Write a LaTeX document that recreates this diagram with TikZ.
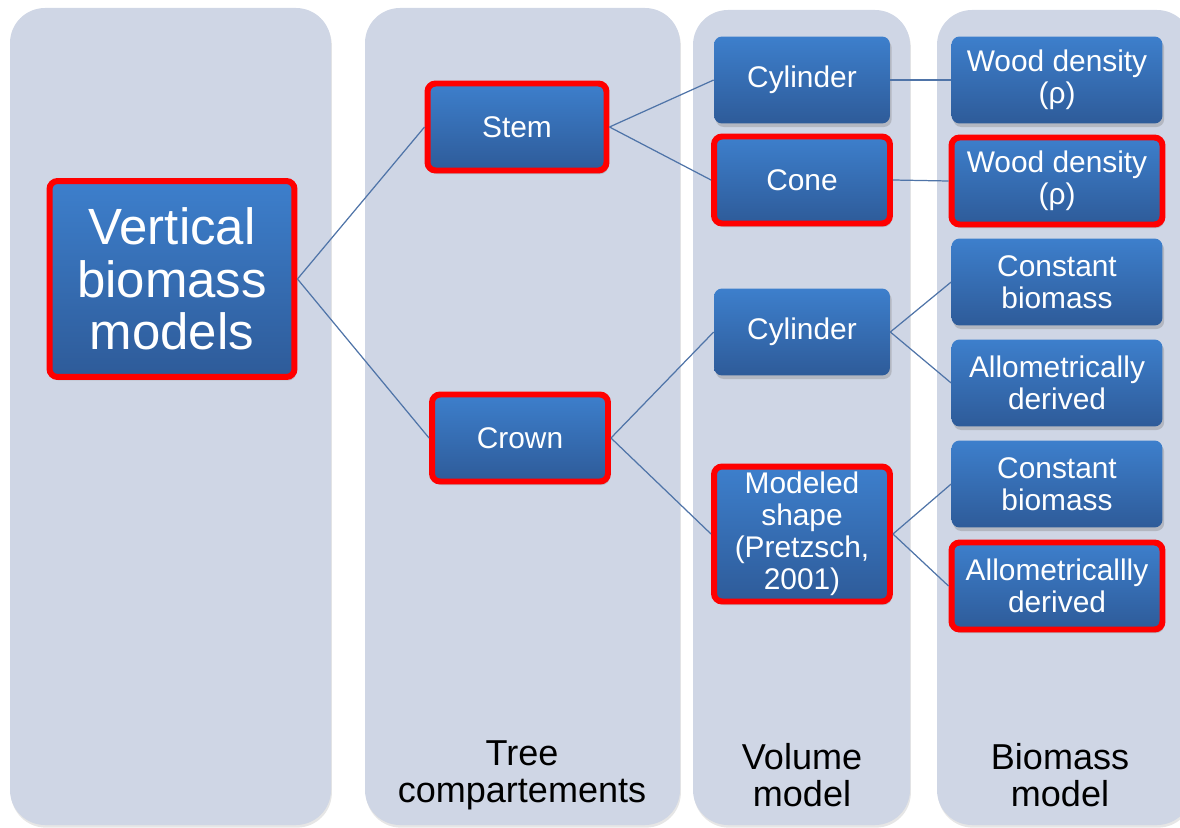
\documentclass[tikz,border=0pt]{standalone}
\usepackage{fontspec}
\setmainfont{Liberation Sans}
\usetikzlibrary{shadows}
\definecolor{colbg}{RGB}{207,214,229}
\definecolor{boxtop}{RGB}{61,127,204}
\definecolor{boxbot}{RGB}{46,91,153}
\definecolor{linkc}{RGB}{79,116,168}
\definecolor{hlred}{RGB}{255,0,0}

\begin{document}
\begin{tikzpicture}[x=0.02cm,y=-0.02cm,
  column/.style={fill=colbg, rounded corners=0.7cm, drop shadow={opacity=0.2,shadow xshift=0.5pt,shadow yshift=-1.5pt}},
  box/.style={rectangle, rounded corners=0.16cm, top color=boxtop, bottom color=boxbot, text=white, align=center, inner sep=1pt, minimum width=3.52cm, minimum height=1.74cm, font=\fontsize{17}{18.2}\selectfont, drop shadow={opacity=0.35,shadow xshift=1pt,shadow yshift=-2pt}},
  wide/.style={minimum width=4.22cm},
  hl/.style={draw=hlred, line width=3.4pt},
  link/.style={draw=linkc, line width=0.7pt},
  collabel/.style={align=center, font=\fontsize{20.5}{21}\selectfont}]
\useasboundingbox (0,0) rectangle (1180,828);

\path[column] (10,8) rectangle (331,825);
\path[column] (365,8) rectangle (680,825);
\path[column] (693,10) rectangle (910,825);
\path[column] (937,10) rectangle (1192,825);

\node[box, hl, minimum width=4.9cm, minimum height=3.92cm, font=\fontsize{29}{30}\selectfont] (vbm) at (172,279) {Vertical\\biomass\\models};
\node[box, hl, minimum width=3.58cm] (stem) at (517,127) {Stem};
\node[box, hl] (crown) at (520,438) {Crown};
\node[box] (cyl1) at (802,80) {Cylinder};
\node[box, hl] (cone) at (802,180) {Cone};
\node[box] (cyl2) at (802,332) {Cylinder};
\node[box, hl, minimum height=2.7cm] (shape) at (802,534) {Modeled\\shape\\(Pretzsch,\\2001)};
\node[box, wide] (wd1) at (1057,80) {Wood density\\(ρ)};
\node[box, wide, hl] (wd2) at (1057,181) {Wood density\\(ρ)};
\node[box, wide] (cb1) at (1057,282) {Constant\\biomass};
\node[box, wide] (ad1) at (1057,383) {Allometrically\\derived};
\node[box, wide] (cb2) at (1057,484) {Constant\\biomass};
\node[box, wide, hl] (ad2) at (1057,586) {Allometricallly\\derived};

\node[collabel] (tc) at (522,775) {Tree\\compartements};
\node[collabel] (vm) at (802,775) {Volume\\model};
\node[collabel] (bm) at (1060,775) {Biomass\\model};

\path[link] (vbm.east) -- (stem.west);
\path[link] (vbm.east) -- (crown.west);
\path[link] (stem.east) -- (cyl1.west);
\path[link] (stem.east) -- (cone.west);
\path[link] (crown.east) -- (cyl2.west);
\path[link] (crown.east) -- (shape.west);
\path[link] (cyl1.east) -- (wd1.west);
\path[link] (cone.east) -- (wd2.west);
\path[link] (cyl2.east) -- (cb1.west);
\path[link] (cyl2.east) -- (ad1.west);
\path[link] (shape.east) -- (cb2.west);
\path[link] (shape.east) -- (ad2.west);
\end{tikzpicture}
\end{document}
